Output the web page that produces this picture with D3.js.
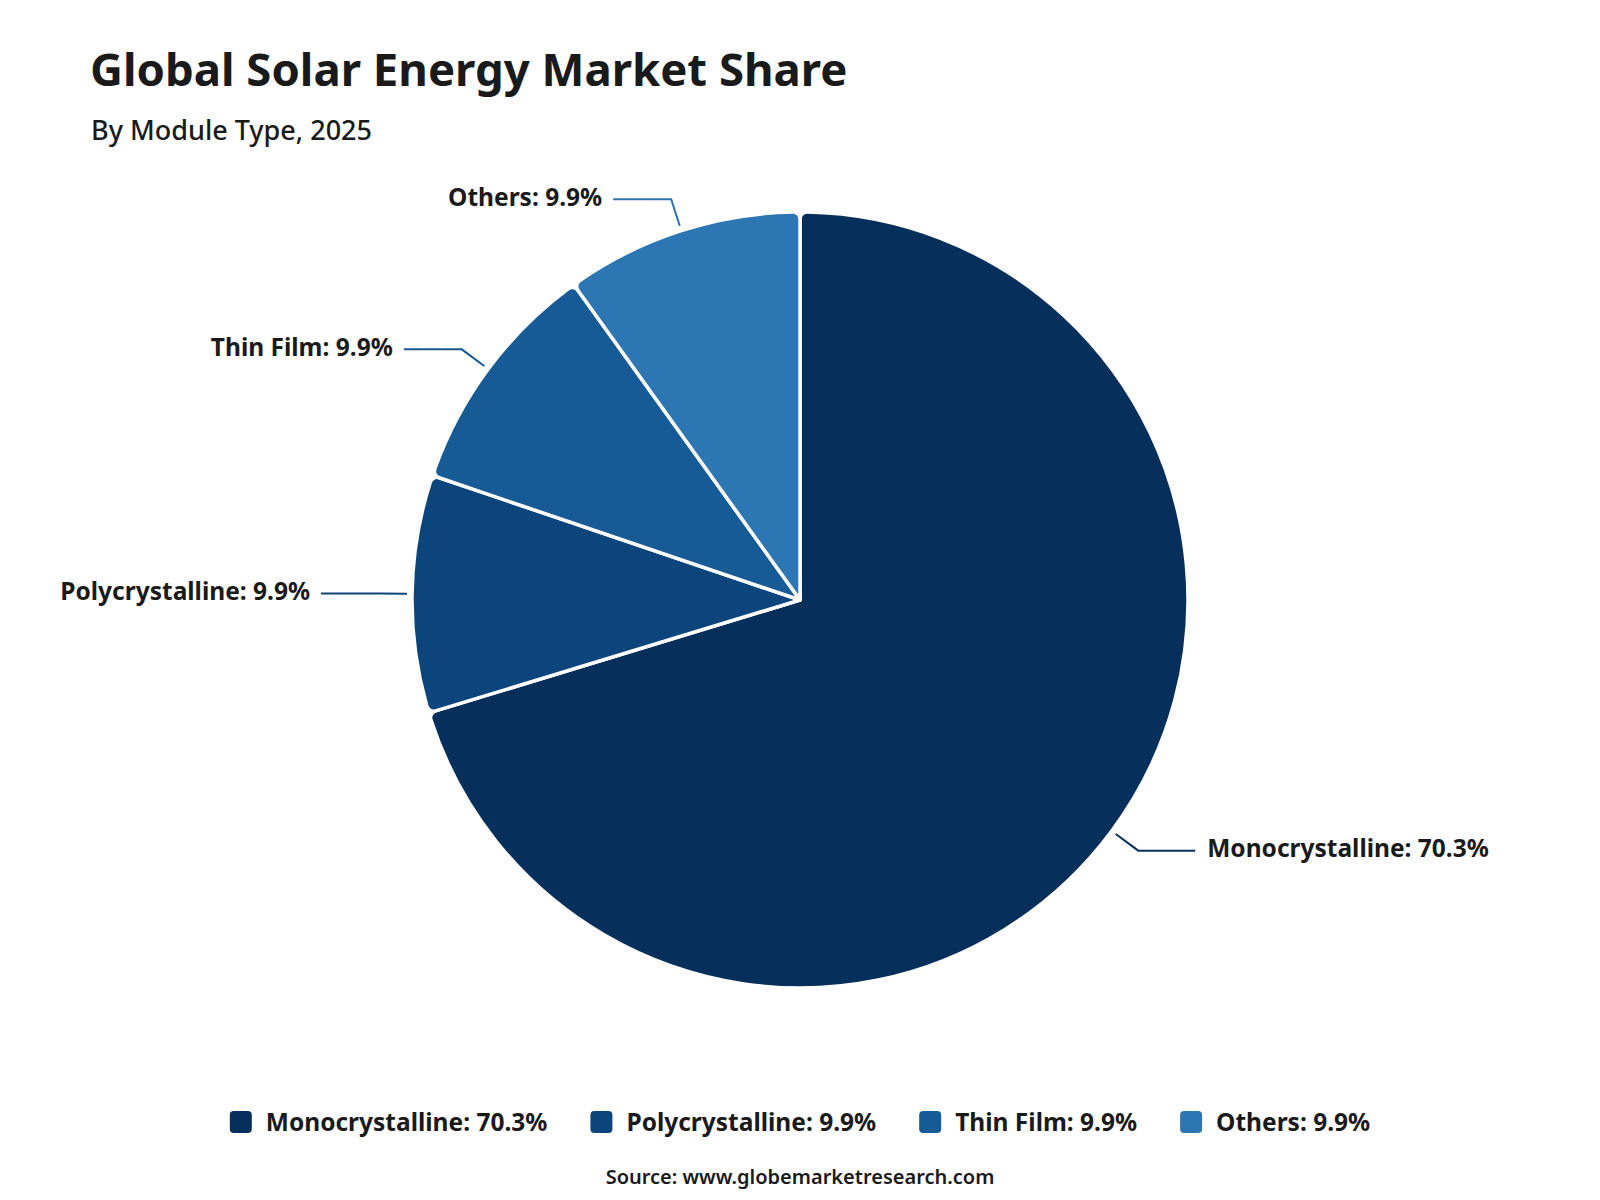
<html><head>
<meta charset="utf-8">
<title>Global Solar Energy Market Share</title>
<script src="https://d3js.org/d3.v7.min.js"></script>
<style>
  body { margin: 0; background: #fff; }
  text { font-family: "Noto Sans", "Open Sans", sans-serif; fill: #1a1a1a; }
</style>
</head>
<body>
<div id="chart"></div>
<script>
// data
var categories = ["Monocrystalline", "Polycrystalline", "Thin Film", "Others"];
var shares = [70.3, 9.9, 9.9, 9.9];
var colors = ["#062f5c", "#0c457b", "#165a96", "#2c76b3"];

var width = 1600, height = 1200;
var cx = 800, cy = 600, radius = 388;

var svg = d3.select("#chart")
  .append("svg")
    .attr("width", width)
    .attr("height", height);

// title
svg.append("text")
  .attr("x", 90)
  .attr("y", 86)
  .style("font-size", "45.5px")
  .style("font-weight", 700)
  .text("Global Solar Energy Market Share");

svg.append("text")
  .attr("x", 91)
  .attr("y", 140)
  .style("font-size", "27px")
  .style("font-weight", 500)
  .text("By Module Type, 2025");

var data = categories.map(function(c, i) { return { name: c, value: shares[i], color: colors[i] }; });

var pie = d3.pie()
  .sort(null)
  .value(function(d) { return d.value; });

var arc = d3.arc()
  .innerRadius(0)
  .outerRadius(radius)
  .cornerRadius(7);

var g = svg.append("g")
  .attr("transform", "translate(" + cx + "," + cy + ")");

var arcs = pie(data);

g.selectAll("path.slice")
  .data(arcs)
  .enter().append("path")
    .attr("class", "slice")
    .attr("d", arc)
    .attr("fill", function(d) { return d.data.color; })
    .attr("stroke", "#fff")
    .attr("stroke-width", 3.5)
    .attr("stroke-linejoin", "round");

// leader lines + labels
arcs.forEach(function(d) {
  var mid = (d.startAngle + d.endAngle) / 2;
  var sx = Math.sin(mid), sy = -Math.cos(mid);
  var p1 = [(radius + 5) * sx, (radius + 5) * sy];
  var p2 = [(radius + 33) * sx, (radius + 33) * sy];
  var right = sx > 0;
  var p3 = [p2[0] + (right ? 57 : -58), p2[1]];

  g.append("polyline")
    .attr("points", [p1, p2, p3].map(function(p) { return p.join(","); }).join(" "))
    .attr("fill", "none")
    .attr("stroke", d.data.color)
    .attr("stroke-width", 2);

  g.append("text")
    .attr("x", p3[0] + (right ? 12 : -11))
    .attr("y", p3[1] - 2)
    .attr("dy", "0.35em")
    .attr("text-anchor", right ? "start" : "end")
    .style("font-size", "24.5px")
    .style("font-weight", 700)
    .text(d.data.name + ": " + d3.format(".1f")(d.data.value) + "%");
});

// legend
var legend = svg.append("g");
var lx = 0, gap = 43;
data.forEach(function(d, i) {
  var item = legend.append("g").attr("transform", "translate(" + lx + ",0)");
  item.append("rect")
    .attr("x", 0)
    .attr("y", -11)
    .attr("width", 22)
    .attr("height", 22)
    .attr("rx", 4)
    .attr("fill", d.color);
  var t = item.append("text")
    .attr("x", 36)
    .attr("y", 0)
    .attr("dy", "0.35em")
    .style("font-size", "24.5px")
    .style("font-weight", 700)
    .text(d.name + ": " + d3.format(".1f")(d.value) + "%");
  lx += 36 + t.node().getComputedTextLength() + gap;
});
var legendWidth = lx - gap;
legend.attr("transform", "translate(" + (cx - legendWidth / 2) + ",1122)");

svg.append("text")
  .attr("x", cx)
  .attr("y", 1184)
  .attr("text-anchor", "middle")
  .style("font-size", "20px")
  .style("font-weight", 600)
  .text("Source: www.globemarketresearch.com");
</script>
</body></html>
